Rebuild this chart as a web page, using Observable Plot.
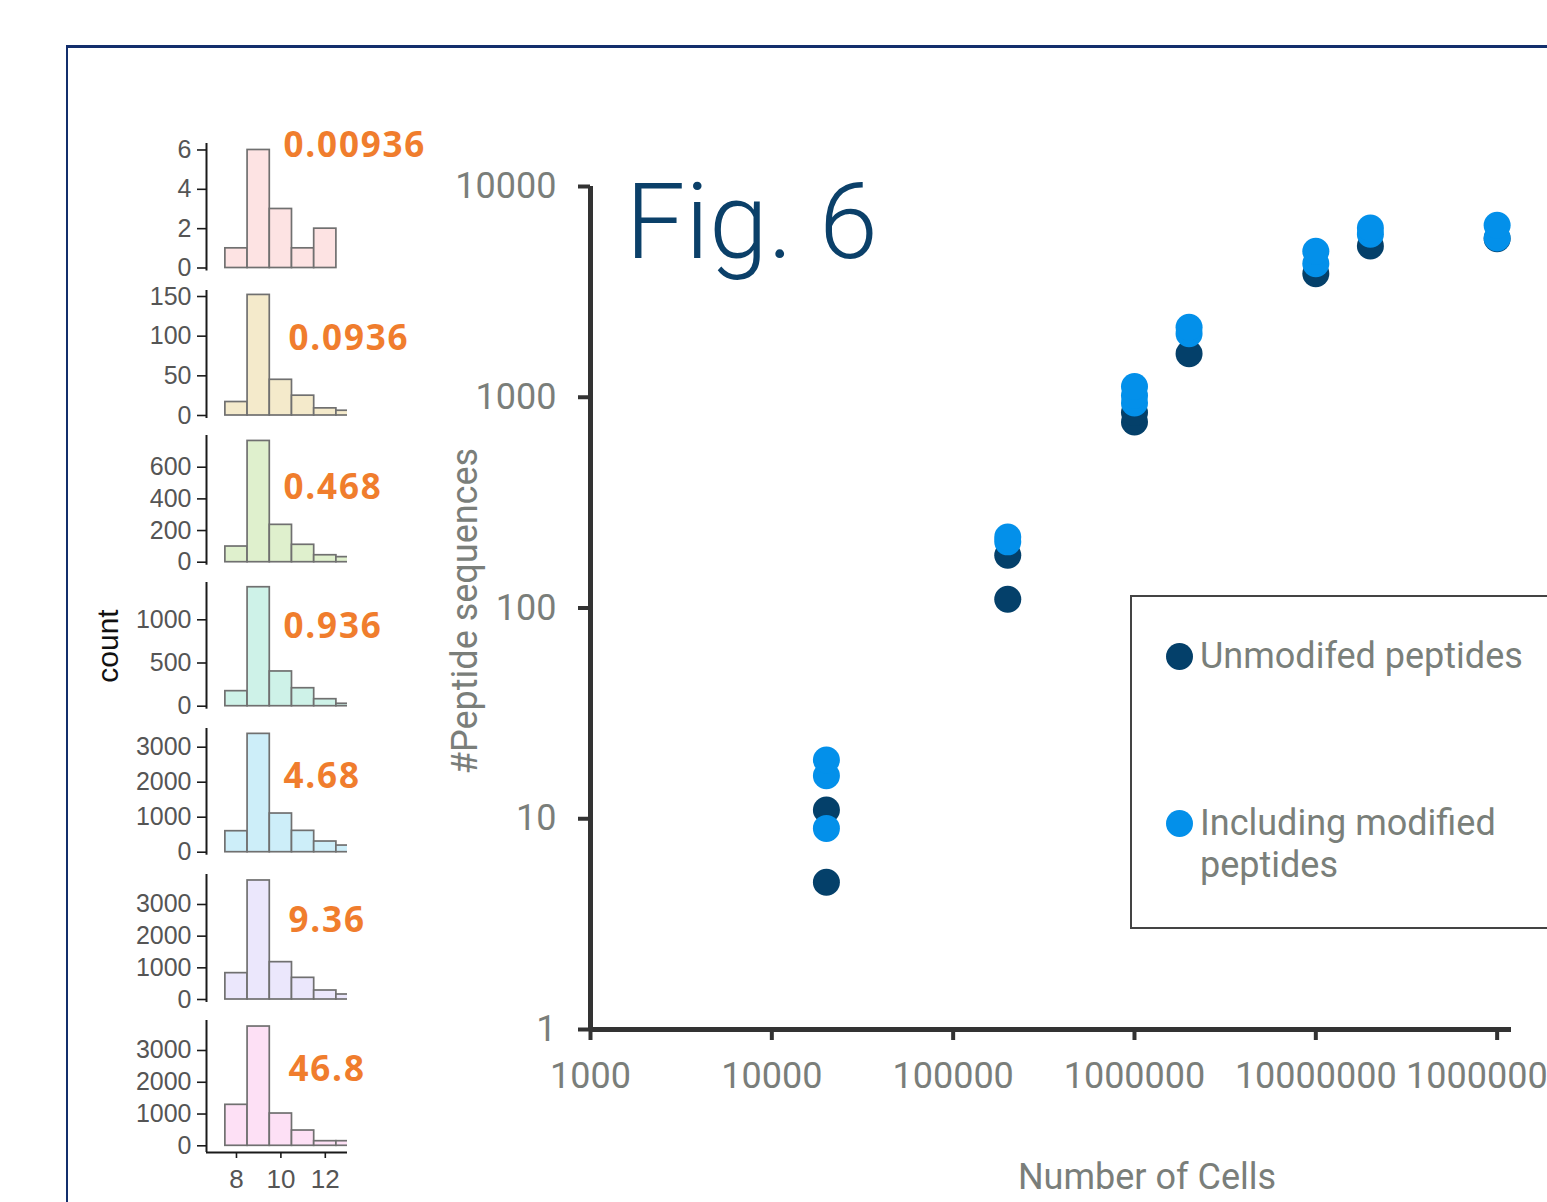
<!DOCTYPE html>
<html>
<head>
<meta charset="utf-8">
<script src="https://cdn.jsdelivr.net/npm/d3@7"></script>
<script src="https://cdn.jsdelivr.net/npm/@observablehq/plot@0.6"></script>
<style>
  body { margin: 0; background: #fff; }
  #root { position: relative; width: 1547px; height: 1202px; overflow: hidden; background: #fff; }
  #root > svg { position: absolute; left: 0; }
  .abs { position: absolute; }
  .legtext { font-family: Roboto, sans-serif; font-size: 36px; line-height: 42px; color: #7a7f7a; width: 345px; white-space: normal; }
  .legdot { width: 27px; height: 27px; border-radius: 50%; }
</style>
</head>
<body>
<div id="root"></div>
<script>
// ---------- main scatter data ----------
const cellCounts = [2e4, 2e5, 1e6, 2e6, 1e7, 2e7, 1e8];
const unmodified = [[5, 11], [110, 178], [763, 846], [1609], [3858], [5221], [5650]];
const withModified = [[9, 16, 19], [206, 217], [939, 1019, 1125], [2003, 2148], [4302, 4926], [5933, 6355], [5700, 6544]];
const xTicks = [1e3, 1e4, 1e5, 1e6, 1e7, 1e8];
const yTicks = [1, 10, 100, 1000, 10000];
const seriesNames = ["Unmodifed peptides", "Including modified peptides"];
const seriesColors = ["#04406a", "#0390ea"];

// ---------- histogram data ----------
const binStarts = [7.5, 8.5, 9.5, 10.5, 11.5, 12.5];
const histCounts = [
  [1, 6, 3, 1, 2, 0],
  [17, 152, 45, 25, 9, 6],
  [99, 766, 236, 110, 44, 32],
  [174, 1377, 402, 208, 81, 28],
  [600, 3381, 1105, 610, 305, 190],
  [832, 3758, 1179, 684, 284, 158],
  [1290, 3754, 1016, 481, 145, 145]
];
const histLabels = ["0.00936", "0.0936", "0.468", "0.936", "4.68", "9.36", "46.8"];
const histYTicks = [[0, 2, 4, 6], [0, 50, 100, 150], [0, 200, 400, 600], [0, 500, 1000],
                    [0, 1000, 2000, 3000], [0, 1000, 2000, 3000], [0, 1000, 2000, 3000]];
const histXTicks = [8, 10, 12];
const histFills = ["#fde3e3", "#f4eacb", "#dff0cd", "#cef2e8", "#cdeef9", "#ebe7fc", "#fde0f5"];
const labelColor = "#f07d2d";

// ---------- layout (pixels) ----------
const panelLayout = [
  {top: 143, zero: 267.5, unit: 19.67, ext: 3, lx: 283, ly: 145},
  {top: 290, zero: 415, unit: 0.7933, ext: 3, lx: 288, ly: 338},
  {top: 435, zero: 561.7, unit: 0.1583, ext: 3, lx: 283, ly: 487},
  {top: 582, zero: 705.7, unit: 0.0864, ext: 3, lx: 283, ly: 626},
  {top: 728, zero: 851.7, unit: 0.035, ext: 3, lx: 283, ly: 776},
  {top: 874, zero: 999, unit: 0.03167, ext: 3, lx: 288, ly: 920},
  {top: 1020, zero: 1145.3, unit: 0.03177, ext: 6.7, lx: 288, ly: 1069}
];

const root = document.getElementById("root");

// outer frame lines
const frame = document.createElement("div");
frame.className = "abs";
Object.assign(frame.style, {left: "66px", top: "45px", width: "1600px", height: "1300px",
  borderTop: "3px solid #132f6c", borderLeft: "2px solid #132f6c"});
root.appendChild(frame);

// ---------- main plot ----------
const unmodData = cellCounts.flatMap((c, i) => unmodified[i].map(v => ({cells: c, peptides: v})));
const modData = cellCounts.flatMap((c, i) => withModified[i].map(v => ({cells: c, peptides: v})));
const gray = "#7a7e7a";

const main = Plot.plot({
  width: 1547, height: 1202,
  marginLeft: 590, marginRight: 36, marginTop: 186, marginBottom: 173,
  style: {background: "transparent", fontFamily: "Roboto, sans-serif", overflow: "visible"},
  x: {type: "log", domain: [1e3, 1.2e8]},
  y: {type: "log", domain: [1, 1e4]},
  marks: [
    Plot.axisX({ticks: xTicks, tickFormat: d => String(d), tickSize: 11, tickPadding: 22,
      fontSize: 36, color: gray, stroke: "#333", strokeWidth: 4, label: null}),
    Plot.axisY({ticks: yTicks, tickFormat: d => String(d), tickSize: 12, tickPadding: 22,
      fontSize: 36, color: gray, stroke: "#333", strokeWidth: 4, label: null}),
    Plot.ruleX([1e3], {stroke: "#333", strokeWidth: 5}),
    Plot.ruleY([1], {stroke: "#333", strokeWidth: 5}),
    Plot.dot(unmodData, {x: "cells", y: "peptides", r: 13.5, fill: seriesColors[0]}),
    Plot.dot(modData, {x: "cells", y: "peptides", r: 13.5, fill: seriesColors[1]}),
    Plot.text(["Fig. 6"], {text: d => d, frameAnchor: "top-left", dx: 35, dy: -4,
      fontSize: 106, fontWeight: 300, fill: "#0b4069"}),
    Plot.text(["#Peptide sequences"], {text: d => d, frameAnchor: "left", rotate: -90,
      dx: -125, dy: 3, lineAnchor: "middle", textAnchor: "middle", fontSize: 36, fill: gray}),
    Plot.text(["Number of Cells"], {text: d => d, frameAnchor: "bottom", dx: 96, dy: 148,
      lineAnchor: "middle", textAnchor: "middle", fontSize: 36, fill: gray}),
    Plot.text(["count"], {text: d => d, frameAnchor: "left", rotate: -90, dx: -482, dy: 38,
      lineAnchor: "middle", textAnchor: "middle", fontSize: 30,
      fontFamily: "Liberation Sans, Arial, sans-serif", fill: "#111"})
  ]
});
main.style.top = "0px";
root.appendChild(main);

// ---------- histogram panels ----------
panelLayout.forEach((L, i) => {
  const last = i === panelLayout.length - 1;
  const svgTop = L.top - 24;
  const bottom = L.zero + L.ext;
  const height = Math.ceil(bottom - svgTop + (last ? 56 : 8));
  const marginTop = L.top - svgTop;
  const marginBottom = height - (bottom - svgTop);
  const ymin = -L.ext / L.unit;
  const ymax = (L.zero - L.top) / L.unit;
  const data = binStarts.map((b, j) => ({x1: b, x2: b + 1, count: histCounts[i][j]}));
  const p = Plot.plot({
    width: 440, height,
    marginLeft: 206, marginRight: 93, marginTop, marginBottom,
    style: {background: "transparent", fontFamily: "Liberation Sans, Arial, sans-serif", overflow: "visible"},
    x: {domain: [6.65, 13], axis: last ? undefined : null},
    y: {domain: [ymin, ymax]},
    marks: [
      Plot.rect(data, {x1: "x1", x2: "x2", y1: 0, y2: "count", fill: histFills[i],
        stroke: "#707070", strokeWidth: 1.7, clip: true}),
      Plot.ruleX([6.65], {stroke: "#1a1a1a", strokeWidth: 2}),
      Plot.axisY({ticks: histYTicks[i], tickFormat: d => String(d), tickSize: 9, tickPadding: 6,
        fontSize: 25, color: "#555", stroke: "#1a1a1a", strokeWidth: 1.6, label: null}),
      last ? Plot.ruleY([ymin], {stroke: "#1a1a1a", strokeWidth: 2}) : null,
      last ? Plot.axisX({ticks: histXTicks, tickFormat: d => String(d), tickSize: 6, tickPadding: 11,
        fontSize: 26, color: "#555", stroke: "#1a1a1a", strokeWidth: 1.6, label: null}) : null,
      Plot.text([histLabels[i]], {text: d => d, frameAnchor: "top-left", dx: L.lx - 206, dy: L.ly - L.top,
        lineAnchor: "middle", textAnchor: "start", fontSize: 35, fontWeight: "bold",
        fontFamily: "Open Sans, Noto Sans, sans-serif", fill: labelColor})
    ]
  });
  p.style.top = svgTop + "px";
  d3.select(p).selectAll(`g[fill="${labelColor}"] text`).style("letter-spacing", "1.8px");
  root.appendChild(p);
});

// ---------- legend ----------
const leg = document.createElement("div");
leg.className = "abs";
Object.assign(leg.style, {left: "1130px", top: "595px", width: "440px", height: "334px",
  border: "2px solid #444", boxSizing: "border-box", background: "transparent"});
root.appendChild(leg);
const legRows = [{dotY: 656, textTop: 634.5}, {dotY: 823, textTop: 801.5}];
seriesNames.forEach((name, i) => {
  const dot = document.createElement("div");
  dot.className = "abs legdot";
  Object.assign(dot.style, {left: (1179 - 13.5) + "px", top: (legRows[i].dotY - 13.5) + "px", background: seriesColors[i]});
  root.appendChild(dot);
  const t = document.createElement("div");
  t.className = "abs legtext";
  t.textContent = name;
  Object.assign(t.style, {left: "1200px", top: legRows[i].textTop + "px"});
  root.appendChild(t);
});
</script>
</body>
</html>
